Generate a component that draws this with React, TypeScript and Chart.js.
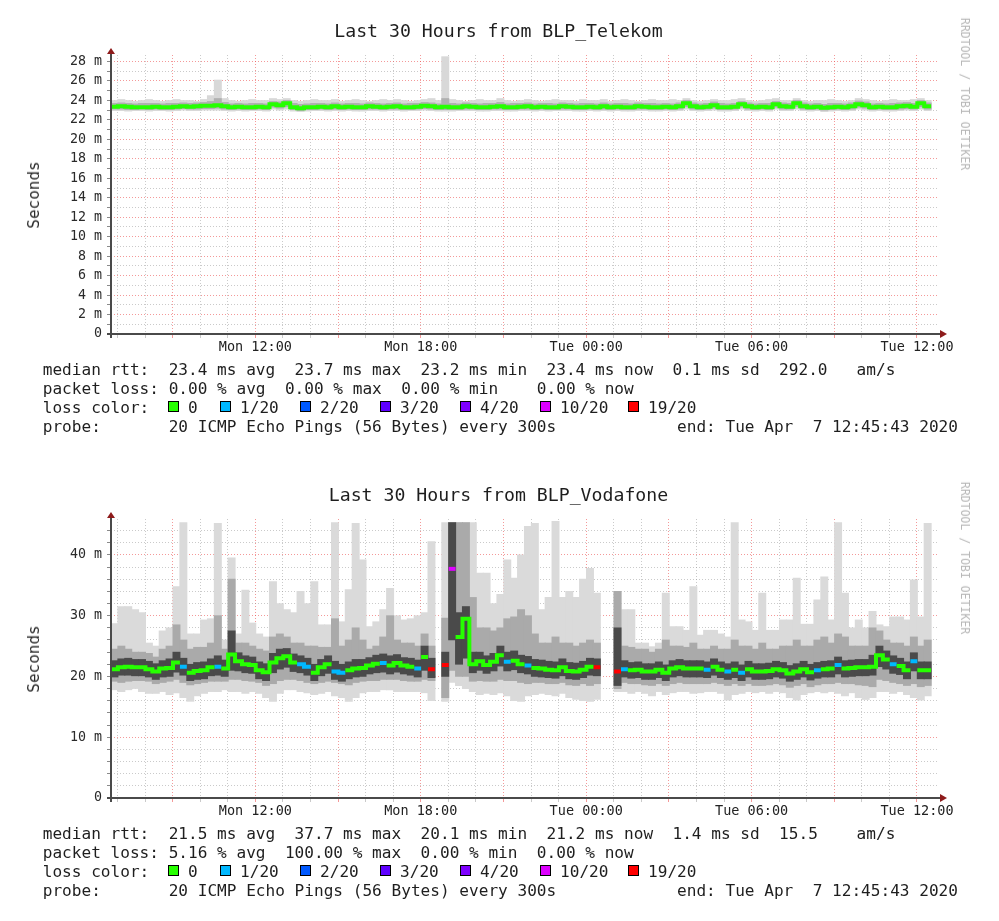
import React, { useEffect, useRef } from 'react';
import { Chart, registerables } from 'chart.js';

Chart.register(...registerables);

// ---------- time axis (hours since start, start = Mon 06:45:43, 30 hours) ----------
const HOURS = 30;
const FIRST_FULL_HOUR = (14 * 60 + 17) / 3600; // Mon 07:00:00
const FIRST_CLOCK_HOUR = 7;
const X_LABELS: Record<number, string> = {
  5: 'Mon 12:00',
  11: 'Mon 18:00',
  17: 'Tue 00:00',
  23: 'Tue 06:00',
  29: 'Tue 12:00',
};

const LOSS_COLORS = ['#26ff00', '#00b8ff', '#0059ff', '#5e00ff', '#7e00ff', '#dd00ff', '#ff0000'];
const LOSS_LABELS = ['0', '1/20', '2/20', '3/20', '4/20', '10/20', '19/20'];

// ---------- BLP_Telekom (ms), 15-minute slots ----------
const TOP_MEDIAN = [
  23.35, 23.4, 23.35, 23.3, 23.3, 23.3, 23.35, 23.3, 23.3, 23.35,
  23.4, 23.35, 23.4, 23.45, 23.45, 23.5, 23.4, 23.3, 23.35, 23.3,
  23.3, 23.35, 23.3, 23.6, 23.5, 23.7, 23.3, 23.2, 23.3, 23.3,
  23.35, 23.3, 23.4, 23.3, 23.35, 23.3, 23.3, 23.4, 23.35, 23.3,
  23.35, 23.4, 23.3, 23.3, 23.35, 23.45, 23.4, 23.3, 23.35, 23.3,
  23.3, 23.4, 23.35, 23.3, 23.3, 23.35, 23.4, 23.3, 23.3, 23.35,
  23.4, 23.3, 23.35, 23.3, 23.3, 23.4, 23.35, 23.3, 23.3, 23.35,
  23.3, 23.4, 23.3, 23.35, 23.3, 23.3, 23.4, 23.35, 23.3, 23.3,
  23.35, 23.3, 23.4, 23.7, 23.4, 23.3, 23.35, 23.5, 23.3, 23.3,
  23.35, 23.6, 23.4, 23.3, 23.35, 23.3, 23.6, 23.4, 23.35, 23.7,
  23.4, 23.3, 23.35, 23.25, 23.3, 23.35, 23.3, 23.4, 23.6, 23.5,
  23.3, 23.35, 23.3, 23.3, 23.4, 23.45, 23.35, 23.7, 23.4, null,
];
const TOP_MAX = [
  24.0, 24.1, 24.0, 23.9, 24.0, 24.1, 24.0, 23.9, 24.0, 24.1,
  24.0, 24.0, 23.9, 24.1, 24.5, 26.1, 24.2, 24.0, 23.9, 24.0,
  24.1, 24.0, 24.0, 24.2, 24.1, 24.2, 24.0, 23.9, 24.0, 24.1,
  24.0, 24.0, 24.1, 23.9, 24.0, 24.1, 24.0, 23.9, 24.0, 24.1,
  24.0, 24.1, 24.0, 23.9, 24.0, 24.1, 24.2, 24.0, 28.5, 24.1,
  24.0, 23.9, 24.0, 24.1, 24.0, 24.0, 24.2, 24.0, 23.9, 24.0,
  24.1, 24.0, 23.9, 24.0, 24.1, 24.0, 24.0, 23.9, 24.1, 24.0,
  24.0, 24.1, 23.9, 24.0, 24.1, 24.0, 23.9, 24.0, 24.1, 24.0,
  24.0, 24.1, 24.0, 24.2, 24.0, 23.9, 24.0, 24.1, 24.0, 24.0,
  24.1, 24.2, 24.0, 23.9, 24.0, 24.1, 24.2, 24.0, 24.0, 24.2,
  24.0, 23.9, 24.0, 24.0, 24.1, 24.0, 23.9, 24.0, 24.2, 24.1,
  24.0, 23.9, 24.0, 24.1, 24.0, 24.0, 24.1, 24.2, 24.0, null,
];
const TOP_HI = [
  23.7, 23.75, 23.7, 23.65, 23.7, 23.7, 23.7, 23.65, 23.7, 23.7,
  23.75, 23.7, 23.75, 23.8, 23.9, 24.2, 23.8, 23.65, 23.7, 23.65,
  23.7, 23.7, 23.65, 23.9, 23.85, 24.0, 23.7, 23.6, 23.65, 23.7,
  23.7, 23.65, 23.75, 23.65, 23.7, 23.7, 23.65, 23.75, 23.7, 23.65,
  23.7, 23.75, 23.65, 23.7, 23.7, 23.8, 23.75, 23.65, 24.2, 23.7,
  23.65, 23.75, 23.7, 23.65, 23.7, 23.7, 23.8, 23.65, 23.7, 23.7,
  23.75, 23.65, 23.7, 23.7, 23.65, 23.75, 23.7, 23.65, 23.7, 23.7,
  23.65, 23.75, 23.65, 23.7, 23.7, 23.65, 23.75, 23.7, 23.7, 23.65,
  23.7, 23.65, 23.75, 24.0, 23.75, 23.65, 23.7, 23.85, 23.7, 23.65,
  23.7, 23.9, 23.75, 23.65, 23.7, 23.7, 23.9, 23.75, 23.7, 24.0,
  23.75, 23.65, 23.7, 23.6, 23.7, 23.7, 23.65, 23.75, 23.95, 23.85,
  23.65, 23.7, 23.65, 23.7, 23.75, 23.8, 23.7, 24.0, 23.75, null,
];
const TOP_LO = [
  23.1, 23.1, 23.05, 23.05, 23.1, 23.05, 23.1, 23.05, 23.05, 23.1,
  23.15, 23.1, 23.1, 23.15, 23.15, 23.2, 23.1, 23.05, 23.1, 23.05,
  23.05, 23.1, 23.05, 23.3, 23.2, 23.35, 23.05, 22.95, 23.05, 23.05,
  23.1, 23.05, 23.1, 23.05, 23.1, 23.05, 23.05, 23.1, 23.1, 23.05,
  23.1, 23.1, 23.05, 23.05, 23.1, 23.15, 23.1, 23.05, 23.05, 23.05,
  23.05, 23.1, 23.1, 23.05, 23.05, 23.1, 23.1, 23.05, 23.05, 23.1,
  23.1, 23.05, 23.1, 23.05, 23.05, 23.1, 23.1, 23.05, 23.05, 23.1,
  23.05, 23.1, 23.05, 23.1, 23.05, 23.05, 23.1, 23.1, 23.05, 23.05,
  23.1, 23.05, 23.1, 23.35, 23.1, 23.05, 23.1, 23.2, 23.05, 23.05,
  23.1, 23.3, 23.1, 23.05, 23.1, 23.05, 23.3, 23.1, 23.1, 23.35,
  23.1, 23.05, 23.1, 23.0, 23.05, 23.1, 23.05, 23.1, 23.3, 23.2,
  23.05, 23.1, 23.05, 23.05, 23.1, 23.15, 23.1, 23.35, 23.1, null,
];
const TOP_MIN = [
  22.95, 22.95, 22.9, 22.95, 22.95, 22.9, 22.95, 22.95, 22.9, 22.95,
  23.0, 22.95, 22.95, 23.0, 23.0, 23.0, 22.95, 22.9, 22.95, 22.9,
  22.95, 22.95, 22.9, 23.1, 23.0, 23.1, 22.9, 22.85, 22.9, 22.95,
  22.95, 22.9, 22.95, 22.9, 22.95, 22.9, 22.9, 22.95, 22.95, 22.9,
  22.95, 22.95, 22.9, 22.95, 22.95, 23.0, 22.95, 22.9, 22.9, 22.9,
  22.95, 22.95, 22.95, 22.9, 22.9, 22.95, 22.95, 22.9, 22.9, 22.95,
  22.95, 22.9, 22.95, 22.9, 22.95, 22.95, 22.95, 22.9, 22.9, 22.95,
  22.9, 22.95, 22.9, 22.95, 22.9, 22.9, 22.95, 22.95, 22.9, 22.9,
  22.95, 22.9, 22.95, 23.1, 22.95, 22.9, 22.95, 23.0, 22.9, 22.9,
  22.95, 23.1, 22.95, 22.9, 22.95, 22.9, 23.1, 22.95, 22.95, 23.1,
  22.95, 22.9, 22.95, 22.85, 22.9, 22.95, 22.9, 22.95, 23.1, 23.0,
  22.9, 22.95, 22.9, 22.9, 22.95, 23.0, 22.95, 23.1, 22.95, null,
];
const TOP_LOSS: number[] = TOP_MEDIAN.map(() => 0);

// ---------- BLP_Vodafone (ms), 15-minute slots ----------
const BOT_MEDIAN = [
  21.2, 21.5, 21.6, 21.5, 21.5, 21.2, 20.8, 21.3, 21.4, 22.3,
  21.6, 20.6, 20.9, 21.0, 21.5, 21.6, 21.3, 23.6, 22.5, 22.0,
  21.9, 21.0, 20.7, 22.3, 23.0, 23.3, 22.3, 22.0, 21.6, 20.6,
  21.5, 22.0, 20.8, 20.6, 21.0, 21.3, 21.4, 21.8, 22.1, 22.2,
  21.8, 22.2, 21.8, 21.6, 21.3, 23.2, 21.2, null, 21.9, 37.7,
  26.5, 29.5, 22.0, 22.5, 21.9, 22.4, 23.5, 22.4, 22.6, 22.0,
  21.8, 21.4, 21.3, 21.1, 21.0, 21.5, 20.9, 20.8, 21.1, 21.6,
  21.5, null, null, 20.8, 21.2, 21.0, 21.1, 20.8, 20.8, 21.1,
  20.6, 21.3, 21.5, 21.3, 21.3, 21.3, 21.1, 21.6, 21.1, 20.8,
  21.1, 20.6, 21.2, 20.8, 20.8, 20.9, 21.2, 21.0, 20.5, 20.8,
  21.2, 20.7, 21.0, 21.2, 21.3, 21.9, 21.3, 21.4, 21.5, 21.5,
  21.6, 23.5, 22.8, 22.0, 21.7, 21.0, 22.5, 21.0, 21.0, null,
];
const BOT_LOSS = [
  0, 0, 0, 0, 0, 0, 0, 0, 0, 0,
  1, 0, 0, 0, 0, 1, 0, 0, 0, 0,
  0, 0, 0, 0, 0, 0, 0, 1, 1, 0,
  0, 0, 1, 1, 0, 0, 0, 0, 0, 1,
  0, 0, 0, 0, 1, 0, 6, 0, 6, 5,
  0, 0, 0, 0, 0, 0, 0, 1, 0, 0,
  1, 0, 0, 0, 0, 0, 0, 0, 0, 0,
  6, 0, 0, 6, 1, 0, 0, 0, 0, 0,
  0, 0, 0, 0, 0, 0, 1, 0, 0, 1,
  0, 1, 0, 0, 0, 0, 0, 0, 0, 0,
  0, 0, 1, 0, 0, 1, 0, 0, 0, 0,
  0, 0, 0, 1, 0, 0, 1, 0, 0, 0,
];
const BOT_MAX = [
  28.7, 31.5, 31.5, 31, 30.5, 25.5, 25, 27.5, 28, 34.8,
  45.3, 27, 27, 29.3, 29.5, 45.2, 26, 39.5, 27, 34.2,
  28.8, 27, 26.5, 35.6, 32, 31, 30.5, 34, 32, 35.6,
  28.5, 28.5, 45.3, 29, 34.3, 45.2, 39.2, 28.2, 29, 31,
  34.5, 30, 29.3, 29.5, 30, 30.5, 42.2, null, 45.3, 45.3,
  45.3, 45.3, 45.3, 37, 37, 32, 33.5, 39.2, 36.2, 40,
  44.7, 45.2, 31, 33, 45.5, 33, 34, 33, 36, 37.8,
  33.7, null, null, 34, 31, 31, 25.5, 25.5, 24.9, 25.5,
  33.7, 28.2, 28.2, 27.6, 34.8, 26.8, 27.6, 27.6, 27, 26.5,
  45.3, 29.3, 29, 27.6, 33.7, 27.6, 27.6, 29.3, 29.3, 36.2,
  28.6, 28.6, 32.6, 36.4, 29.3, 45.3, 33.7, 28, 29.3, 28,
  30.7, 28.5, 28.2, 29.8, 29.8, 29.3, 35.9, 29.8, 45.2, null,
];
const BOT_HI = [
  24.5, 25, 24.5, 24, 24, 23.8, 23.2, 24.5, 25, 28.5,
  26, 24.5, 24.8, 24.8, 25.5, 30, 24.5, 36, 25.5, 25.5,
  25, 24.5, 24.2, 26.5, 27, 26.5, 25.5, 25.5, 25, 25,
  24.8, 24.8, 29.5, 25, 26, 28, 26, 24.5, 25, 26.5,
  30, 26, 25.5, 25.5, 25, 27, 25, null, 29.6, 45.3,
  45.3, 45.3, 33, 28, 28, 27.5, 28, 29.5, 29.8, 31,
  30, 27, 25.5, 25.5, 26.5, 25.5, 25.5, 25, 25.5, 26,
  25.5, null, null, 34, 25, 24.8, 24.5, 24.5, 24, 24.5,
  26, 25, 25, 24.8, 25.5, 24.5, 24.5, 25, 24.5, 24.5,
  26, 25, 25, 24.5, 25.5, 24.5, 24.5, 25, 25, 26,
  25, 25, 26, 26.5, 25.5, 27, 26.5, 25, 25, 25,
  28, 27.5, 26, 25.5, 25.5, 25, 26.5, 25, 26, null,
];
const BOT_DARK_HI = [
  22.6, 22.9, 23.0, 22.8, 22.8, 22.5, 22.1, 22.6, 22.9, 24.0,
  23.0, 22.0, 22.3, 22.4, 22.9, 23.4, 22.7, 27.5, 23.9, 23.4,
  23.2, 22.4, 22.1, 23.8, 24.5, 24.6, 23.7, 23.4, 23.0, 22.0,
  22.8, 23.4, 22.5, 22.0, 22.4, 22.8, 22.8, 23.1, 23.5, 23.7,
  23.4, 23.6, 23.1, 23.0, 22.7, 25.0, 23.0, null, 24.0, 45.3,
  30.5, 31.5, 24.0, 24.0, 23.4, 23.8, 25.0, 24.0, 24.2, 23.5,
  23.3, 22.8, 22.7, 22.5, 22.4, 22.9, 22.3, 22.2, 22.5, 23.0,
  22.9, null, null, 28.0, 22.6, 22.3, 22.4, 22.1, 22.1, 22.4,
  21.9, 22.6, 22.8, 22.6, 22.6, 22.6, 22.4, 22.9, 22.4, 22.1,
  22.4, 21.9, 22.5, 22.1, 22.1, 22.2, 22.5, 22.3, 21.8, 22.1,
  22.5, 22.0, 22.3, 22.5, 22.6, 23.2, 22.6, 22.7, 22.8, 22.8,
  23.5, 25.0, 24.2, 23.4, 23.0, 22.4, 23.9, 22.4, 22.4, null,
];
const BOT_DARK_LO = [
  19.9, 20.2, 20.2, 20.1, 20.1, 19.9, 19.5, 19.9, 20.0, 20.7,
  20.2, 19.3, 19.5, 19.6, 20.1, 20.2, 20.0, 21.0, 20.9, 20.6,
  20.5, 19.6, 19.3, 20.6, 21.2, 21.5, 20.8, 20.6, 20.2, 19.3,
  20.1, 20.5, 19.5, 19.2, 19.6, 19.9, 20.0, 20.4, 20.6, 20.7,
  20.4, 20.7, 20.4, 20.2, 19.9, 21.0, 19.8, null, 20.0, 26.0,
  22.0, 23.0, 20.6, 21.0, 20.5, 20.9, 21.7, 20.9, 21.1, 20.6,
  20.4, 20.0, 19.9, 19.8, 19.7, 20.1, 19.6, 19.5, 19.8, 20.2,
  20.1, null, null, 18.5, 19.9, 19.7, 19.8, 19.5, 19.5, 19.8,
  19.3, 19.9, 20.1, 19.9, 19.9, 19.9, 19.8, 20.2, 19.8, 19.5,
  19.8, 19.3, 19.9, 19.5, 19.5, 19.6, 19.9, 19.7, 19.2, 19.5,
  19.9, 19.4, 19.7, 19.9, 19.9, 20.4, 19.9, 20.0, 20.1, 20.1,
  20.2, 21.6, 21.2, 20.5, 20.3, 19.6, 20.9, 19.6, 19.6, null,
];
const BOT_LO = [
  19.2, 19, 19.2, 19.3, 19.3, 19.2, 18.8, 19, 19.2, 19.5,
  19, 18.6, 18.8, 19, 19.2, 19.2, 19.2, 19.5, 19.5, 19.3,
  19.2, 19, 18.5, 18.8, 19.3, 19.5, 19.5, 19.3, 19, 18.8,
  19, 19.2, 19, 18.8, 18.6, 19, 19.2, 19.3, 19.3, 19.5,
  19.5, 19.5, 19.3, 19.2, 19.2, 19.5, 19.3, null, 16.5, 21,
  20, 20, 19.2, 19.3, 19.2, 19.2, 19.5, 19.3, 19.3, 19,
  18.8, 19, 19, 18.8, 18.8, 19, 18.6, 18.5, 18.8, 18.5,
  18.8, null, null, 18, 19, 18.8, 18.8, 18.6, 18.5, 18.8,
  18.5, 18.8, 19, 18.8, 18.8, 18.8, 18.8, 19, 18.8, 18.5,
  18.8, 18.5, 18.8, 18.5, 18.5, 18.6, 18.8, 18.6, 18.2, 18.5,
  18.8, 18.3, 18.6, 18.8, 18.8, 19, 18.8, 18.8, 18.6, 18.5,
  18.3, 19.5, 19.3, 19, 18.8, 18.5, 18.8, 18.3, 18.5, null,
];
const BOT_MIN = [
  17.8, 17.5, 17.8, 18, 17.5, 17.2, 17.2, 17.5, 17, 17.3,
  16.5, 15.9, 16.8, 17.2, 17.5, 17.5, 17.8, 17.5, 17.5, 17.2,
  17.5, 17.2, 16.5, 15.9, 17.2, 17.8, 17.8, 17.5, 17.3, 17,
  17.2, 17.5, 16.8, 16.5, 15.9, 16.5, 17.3, 17.5, 17.5, 17.8,
  17.8, 17.5, 17.5, 17.5, 17.5, 17.3, 16, null, 15.9, 19,
  18.5, 18, 17.5, 17, 17.2, 17, 17.3, 16.8, 16, 15.9,
  16.8, 17, 17.2, 17, 16.8, 17.2, 16.5, 16.2, 16, 15.9,
  16.2, null, null, 17.5, 17.5, 17.2, 17.5, 17.2, 16.8, 17.5,
  17, 17.3, 17.5, 17.5, 17.2, 17.3, 17.5, 17.5, 17.2, 16.1,
  17, 17.2, 17.5, 17.3, 17.5, 17.2, 17.5, 17.3, 16.5, 16.1,
  17, 17.3, 17.5, 17.3, 17.5, 17.2, 16.8, 17.3, 16.5, 16.2,
  16.5, 17.5, 17.5, 17.2, 17.5, 17, 16.5, 16.1, 16.8, null,
];

// ---------- legend texts ----------
const TOP_TITLE = 'Last 30 Hours from BLP_Telekom';
const BOT_TITLE = 'Last 30 Hours from BLP_Vodafone';
const TOP_RTT = 'median rtt:  23.4 ms avg  23.7 ms max  23.2 ms min  23.4 ms now  0.1 ms sd  292.0   am/s';
const BOT_RTT = 'median rtt:  21.5 ms avg  37.7 ms max  20.1 ms min  21.2 ms now  1.4 ms sd  15.5    am/s';
const TOP_PLOSS = 'packet loss: 0.00 % avg  0.00 % max  0.00 % min    0.00 % now';
const BOT_PLOSS = 'packet loss: 5.16 % avg  100.00 % max  0.00 % min  0.00 % now';
const PROBE = 'probe:       20 ICMP Echo Pings (56 Bytes) every 300s';
const END_TEXT = 'end: Tue Apr  7 12:45:43 2020';
const WATERMARK = 'RRDTOOL / TOBI OETIKER';

type Arr = (number | null)[];
type PanelCfg = {
  title: string;
  yMax: number;
  yMinor: number;
  yMajor: number;
  med: Arr;
  loss: number[];
  max: Arr;
  hi: Arr;
  lo: Arr;
  min: Arr;
  dkHi?: Arr;
  dkLo?: Arr;
  lightColor: string;
  midColor: string;
  rtt: string;
  ploss: string;
};

const TOP_CFG: PanelCfg = {
  title: TOP_TITLE, yMax: 28.67, yMinor: 1, yMajor: 2,
  med: TOP_MEDIAN, loss: TOP_LOSS, max: TOP_MAX, hi: TOP_HI, lo: TOP_LO, min: TOP_MIN,
  lightColor: '#d8d8d8', midColor: '#b0b0b0', rtt: TOP_RTT, ploss: TOP_PLOSS,
};
const BOT_CFG: PanelCfg = {
  title: BOT_TITLE, yMax: 45.9, yMinor: 2, yMajor: 10,
  med: BOT_MEDIAN, loss: BOT_LOSS, max: BOT_MAX, hi: BOT_HI, lo: BOT_LO, min: BOT_MIN,
  dkHi: BOT_DARK_HI, dkLo: BOT_DARK_LO,
  lightColor: '#dadada', midColor: '#aaaaaa', rtt: BOT_RTT, ploss: BOT_PLOSS,
};

const MONO = "'DejaVu Sans Mono', monospace";
const RED_GRID = 'rgba(235, 70, 70, 0.55)';
const GRAY_GRID = 'rgba(150, 150, 150, 0.5)';

const axisPlugin = {
  id: 'rrdAxes',
  afterDatasetsDraw(chart: any) {
    const { ctx, chartArea } = chart;
    const { left, right, top, bottom } = chartArea;
    ctx.save();
    ctx.strokeStyle = '#4a4a4a';
    ctx.lineWidth = 2;
    ctx.beginPath();
    ctx.moveTo(left, bottom + 4);
    ctx.lineTo(left, top - 2);
    ctx.moveTo(left - 4, bottom);
    ctx.lineTo(right + 2, bottom);
    ctx.stroke();
    ctx.fillStyle = '#8e1b1b';
    ctx.beginPath();
    ctx.moveTo(left - 4, top - 1);
    ctx.lineTo(left + 4, top - 1);
    ctx.lineTo(left, top - 7);
    ctx.closePath();
    ctx.fill();
    ctx.beginPath();
    ctx.moveTo(right + 2, bottom - 4);
    ctx.lineTo(right + 2, bottom + 4);
    ctx.lineTo(right + 9, bottom);
    ctx.closePath();
    ctx.fill();
    ctx.restore();
  },
};

function buildConfig(cfg: PanelCfg): any {
  const n = cfg.med.length;
  const step = HOURS / n;
  const datasets: any[] = [];

  // median, one stepped line per loss colour
  for (let lvl = 0; lvl < LOSS_COLORS.length; lvl++) {
    const pts: any[] = [];
    for (let i = 0; i < n; i++) {
      const v = cfg.med[i];
      if (v == null || cfg.loss[i] !== lvl) continue;
      const prevSame = i > 0 && cfg.med[i - 1] != null && cfg.loss[i - 1] === lvl;
      if (!prevSame && pts.length) pts.push({ x: i * step, y: null });
      pts.push({ x: i * step, y: v });
      const nextSame = i + 1 < n && cfg.med[i + 1] != null && cfg.loss[i + 1] === lvl;
      if (!nextSame) pts.push({ x: (i + 1) * step, y: v });
    }
    if (pts.length) {
      datasets.push({
        type: 'line', data: pts, borderColor: LOSS_COLORS[lvl], borderWidth: 4,
        pointRadius: 0, stepped: true, spanGaps: false, order: 0, borderCapStyle: 'butt',
      });
    }
  }

  const band = (lo: Arr, hi: Arr, color: string, order: number) => ({
    type: 'bar',
    data: lo
      .map((l, i) => (l == null || hi[i] == null ? null : { x: (i + 0.5) * step, y: [l, hi[i]] }))
      .filter(Boolean),
    backgroundColor: color,
    borderWidth: 0,
    barThickness: 7.3,
    grouped: false,
    order,
  });
  if (cfg.dkHi && cfg.dkLo) datasets.push(band(cfg.dkLo, cfg.dkHi, '#4a4a4a', 1));
  datasets.push(band(cfg.lo, cfg.hi, cfg.midColor, 2));
  datasets.push(band(cfg.min, cfg.max, cfg.lightColor, 3));

  const xTicks: number[] = [];
  for (let k = 0; FIRST_FULL_HOUR + k < HOURS; k++) xTicks.push(FIRST_FULL_HOUR + k);
  const xIsMajor = (v: number) => (FIRST_CLOCK_HOUR + Math.round(v - FIRST_FULL_HOUR)) % 3 === 0;
  const yTicks: number[] = [];
  for (let v = 0; v <= cfg.yMax; v += cfg.yMinor) yTicks.push(v);
  const yIsMajor = (v: number) => Math.abs(v / cfg.yMajor - Math.round(v / cfg.yMajor)) < 1e-6;

  const xGrid = (c: any) => (c.tick && xIsMajor(c.tick.value) ? RED_GRID : GRAY_GRID);
  const yGrid = (c: any) => (c.tick && yIsMajor(c.tick.value) ? RED_GRID : GRAY_GRID);

  return {
    type: 'bar',
    data: { datasets },
    plugins: [axisPlugin],
    options: {
      animation: false,
      responsive: false,
      devicePixelRatio: 1,
      events: [],
      layout: { padding: { left: 0, right: 61, top: 55, bottom: 93 } },
      plugins: { legend: { display: false }, tooltip: { enabled: false }, title: { display: false } },
      scales: {
        x: {
          type: 'linear', min: 0, max: HOURS, offset: false,
          afterBuildTicks: (s: any) => { s.ticks = xTicks.map((v) => ({ value: v })); },
          afterFit: (s: any) => { s.height = 30; },
          grid: { offset: false, color: xGrid, lineWidth: 1, drawTicks: true, tickLength: 4, tickColor: xGrid },
          border: { display: false, dash: [1, 2] },
          ticks: {
            autoSkip: false, maxRotation: 0, minRotation: 0, padding: 1, color: '#222',
            font: { family: MONO, size: 13.5 },
            callback: (v: number) => X_LABELS[Math.round(v - FIRST_FULL_HOUR)] || '',
          },
        },
        y: {
          type: 'linear', min: 0, max: cfg.yMax,
          afterBuildTicks: (s: any) => { s.ticks = yTicks.map((v) => ({ value: v })); },
          afterFit: (s: any) => { s.width = 111; },
          grid: { color: yGrid, lineWidth: 1, drawTicks: true, tickLength: 4, tickColor: '#8a8a8a' },
          border: { display: false, dash: [1, 2] },
          ticks: {
            autoSkip: false, padding: 5, color: '#2a2a2a',
            font: { family: MONO, size: 13.3 },
            callback: (v: number) => (yIsMajor(v) ? (v === 0 ? '0' : `${Math.round(v)} m`) : ''),
          },
        },
      },
    },
  };
}

const SQUARE_X = [168, 220, 300, 380, 460, 540, 628];
const SQUARE_LABEL_X = [188, 240, 320, 400, 480, 560, 648];

function Panel({ cfg, top }: { cfg: PanelCfg; top: number }) {
  const ref = useRef<HTMLCanvasElement>(null);
  useEffect(() => {
    const chart = new Chart(ref.current as HTMLCanvasElement, buildConfig(cfg));
    return () => chart.destroy();
  }, []);
  const line = (t: number): React.CSSProperties => ({
    position: 'absolute', left: 42.7, top: top + t, fontSize: 16.1, lineHeight: '19px',
    whiteSpace: 'pre', fontFamily: MONO, color: '#1e1e1e',
  });
  return (
    <>
      <canvas
        ref={ref}
        width={999}
        height={457}
        style={{ position: 'absolute', left: 0, top, width: 999, height: 457 }}
      />
      <div
        style={{
          position: 'absolute', left: 0, width: 997, top: top + 20, textAlign: 'center',
          fontSize: 18.2, lineHeight: '22px', fontFamily: MONO, color: '#1e1e1e', whiteSpace: 'pre',
        }}
      >
        {cfg.title}
      </div>
      <div
        style={{
          position: 'absolute', left: 33.5, top: top + 194.5, fontSize: 16, lineHeight: '16px',
          fontFamily: MONO, color: '#2a2a2a', whiteSpace: 'pre',
          transform: 'translate(-50%, -50%) rotate(-90deg)',
        }}
      >
        Seconds
      </div>
      <div
        style={{
          position: 'absolute', left: 965, top: top + 94, fontSize: 11.5, lineHeight: '12px',
          fontFamily: MONO, color: '#b8b8b8', whiteSpace: 'pre',
          transform: 'translate(-50%, -50%) rotate(90deg)',
        }}
      >
        {WATERMARK}
      </div>
      <div style={line(359.5)}>{cfg.rtt}</div>
      <div style={line(378.5)}>{cfg.ploss}</div>
      <div style={line(397.5)}>loss color:</div>
      {LOSS_LABELS.map((lab, i) => (
        <React.Fragment key={lab}>
          <div
            style={{
              position: 'absolute', left: SQUARE_X[i], top: top + 400.5, width: 11, height: 11,
              boxSizing: 'border-box', border: '1px solid #000', background: LOSS_COLORS[i],
            }}
          />
          <div style={{ ...line(397.5), left: SQUARE_LABEL_X[i] }}>{lab}</div>
        </React.Fragment>
      ))}
      <div style={line(416.5)}>{PROBE}</div>
      <div style={{ ...line(416.5), left: 677 }}>{END_TEXT}</div>
    </>
  );
}

export default function App() {
  return (
    <div
      style={{
        position: 'absolute', left: 0, top: 0, width: 999, height: 921,
        background: '#fff', overflow: 'hidden',
      }}
    >
      <Panel cfg={TOP_CFG} top={0} />
      <Panel cfg={BOT_CFG} top={464} />
    </div>
  );
}
